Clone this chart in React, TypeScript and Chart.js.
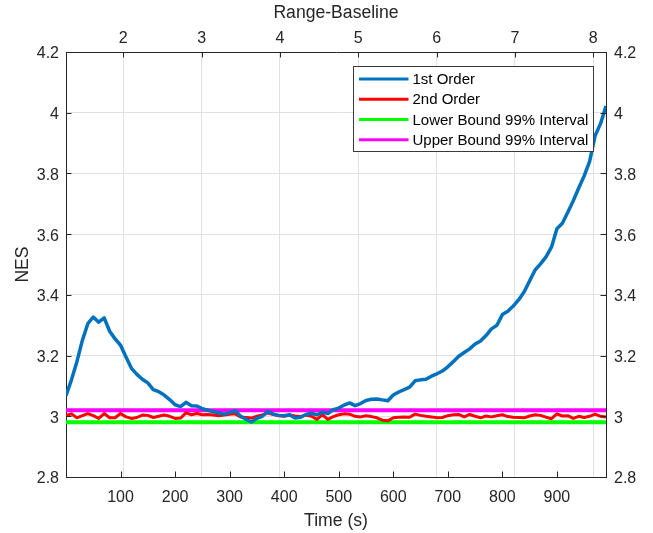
import { useEffect, useRef } from 'react';
import { Chart, registerables } from 'chart.js';

Chart.register(...registerables);

// ---- data ----
const times = [
  0, 10, 20, 30, 40, 50, 60, 70, 80, 90,
  100, 110, 120, 130, 140, 150, 160, 170, 180, 190,
  200, 210, 220, 230, 240, 250, 260, 270, 280, 290,
  300, 310, 320, 330, 340, 350, 360, 370, 380, 390,
  400, 410, 420, 430, 440, 450, 460, 470, 480, 490,
  500, 510, 520, 530, 540, 550, 560, 570, 580, 590,
  600, 610, 620, 630, 640, 650, 660, 670, 680, 690,
  700, 710, 720, 730, 740, 750, 760, 770, 780, 790,
  800, 810, 820, 830, 840, 850, 860, 870, 880, 890,
  900, 910, 920, 930, 940, 950, 960, 970, 980, 990,
];

const firstOrder = [
  3.068, 3.12, 3.18, 3.25, 3.305, 3.327, 3.31, 3.324, 3.28, 3.255,
  3.234, 3.195, 3.158, 3.138, 3.122, 3.11, 3.088, 3.081, 3.07, 3.055,
  3.038, 3.032, 3.046, 3.035, 3.034, 3.025, 3.02, 3.015, 3.011, 3.007,
  3.012, 3.019, 3.0, 2.99, 2.981, 2.993, 3.0, 3.016, 3.007, 3.003,
  3.002, 3.005, 2.994, 2.997, 3.006, 3.01, 3.005, 3.013, 3.009, 3.022,
  3.027, 3.037, 3.044, 3.035, 3.042, 3.052, 3.056, 3.057, 3.054, 3.051,
  3.07, 3.08, 3.088, 3.096, 3.117, 3.12, 3.122, 3.132, 3.14, 3.149,
  3.163, 3.18, 3.198, 3.21, 3.222, 3.238, 3.248, 3.266, 3.288, 3.3,
  3.335, 3.346, 3.363, 3.384, 3.41, 3.446, 3.482, 3.502, 3.525, 3.557,
  3.618, 3.636, 3.672, 3.71, 3.752, 3.792, 3.84, 3.924, 3.964, 4.022,
];

const secondOrder = [
  3.002, 3.008, 2.995, 3.002, 3.009, 3.002, 2.993, 3.009, 2.995, 2.995,
  3.009, 2.998, 2.993, 2.996, 3.004, 3.003, 2.996, 3.0, 3.004, 3.0,
  2.993, 2.994, 3.011, 3.005, 3.009, 3.005, 3.006, 3.004, 3.002, 3.004,
  3.007, 3.008, 2.998, 2.996, 2.994, 3.0, 3.004, 3.011, 3.006, 3.002,
  3.0, 3.004, 3.001, 2.999, 3.004, 3.0, 2.99, 3.005, 2.99, 2.999,
  3.005, 3.008, 3.007, 3.0, 2.998, 3.002, 2.999, 2.995, 2.987, 2.985,
  2.995, 2.997, 2.998, 2.997, 3.007, 3.003, 3.0, 2.998, 2.995, 2.996,
  3.002, 3.005, 3.006, 2.998, 3.006, 3.0, 2.995, 3.001, 2.998, 3.002,
  3.005, 2.999, 2.997, 2.996, 2.995, 3.001, 3.005, 3.003, 2.997, 2.992,
  3.008, 3.001, 3.002, 2.993, 3.0, 2.996, 3.0, 3.007, 3.0, 2.998,
];

const boundTimes = [0, 990];
const lowerBound = [2.98, 2.98];
const upperBound = [3.02, 3.02];

const timeTicks = [100, 200, 300, 400, 500, 600, 700, 800, 900];
const rangeTicks = [2, 3, 4, 5, 6, 7, 8];
const nesTicks = [2.8, 3.0, 3.2, 3.4, 3.6, 3.8, 4.0, 4.2];

const seriesLabels = ['1st Order', '2nd Order', 'Lower Bound 99% Interval', 'Upper Bound 99% Interval'];

// ---- styles ----
const FONT = '"Liberation Sans", Arial, Helvetica, sans-serif';
const AXIS = '#262626';
const GRID = '#e1e1e1';

const inwardTicks = {
  id: 'inwardTicks',
  afterDraw(chart: any) {
    const { ctx, chartArea, scales } = chart;
    const len = 5.5;
    ctx.save();
    ctx.strokeStyle = AXIS;
    ctx.lineWidth = 1;
    ctx.beginPath();
    for (const t of scales.x.ticks) {
      const p = Math.round(scales.x.getPixelForValue(t.value)) + 0.5;
      ctx.moveTo(p, chartArea.bottom);
      ctx.lineTo(p, chartArea.bottom - len);
    }
    for (const t of scales.x2.ticks) {
      const p = Math.round(scales.x2.getPixelForValue(t.value)) + 0.5;
      ctx.moveTo(p, chartArea.top);
      ctx.lineTo(p, chartArea.top + len);
    }
    for (const t of scales.y.ticks) {
      const p = Math.round(scales.y.getPixelForValue(t.value)) + 0.5;
      ctx.moveTo(chartArea.left, p);
      ctx.lineTo(chartArea.left + len, p);
    }
    for (const t of scales.y2.ticks) {
      const p = Math.round(scales.y2.getPixelForValue(t.value)) + 0.5;
      ctx.moveTo(chartArea.right, p);
      ctx.lineTo(chartArea.right - len, p);
    }
    ctx.stroke();
    ctx.restore();
  },
};

const boxLegend = {
  id: 'boxLegend',
  afterDatasetsDraw(chart: any) {
    const { ctx, chartArea } = chart;
    const w = 240;
    const h = 85;
    const left = Math.round(chartArea.right - 13.5 - w) + 0.5;
    const top = Math.round(chartArea.top + 13.5) + 0.5;
    ctx.save();
    ctx.fillStyle = '#ffffff';
    ctx.fillRect(left, top, w, h);
    ctx.strokeStyle = '#3a3a3a';
    ctx.lineWidth = 1;
    ctx.strokeRect(left, top, w, h);
    ctx.font = `15px ${FONT}`;
    ctx.textBaseline = 'middle';
    ctx.textAlign = 'left';
    chart.data.datasets.forEach((ds: any, i: number) => {
      const y = top + 12.6 + i * 20.2;
      ctx.strokeStyle = ds.borderColor;
      ctx.lineWidth = 3;
      ctx.beginPath();
      ctx.moveTo(left + 5.5, y);
      ctx.lineTo(left + 55, y);
      ctx.stroke();
      ctx.fillStyle = '#000000';
      ctx.fillText(ds.label, left + 59, y + 1);
    });
    ctx.restore();
  },
};

const fmt = (v: any) => String(Number(Number(v).toFixed(1)));

export default function App() {
  const ref = useRef<HTMLCanvasElement>(null);

  useEffect(() => {
    const toXY = (xs: number[], ys: number[]) => xs.map((x, i) => ({ x, y: ys[i] }));
    const chart = new Chart(ref.current as HTMLCanvasElement, {
      type: 'line',
      data: {
        datasets: [
          {
            label: seriesLabels[0],
            data: toXY(times, firstOrder),
            borderColor: '#0072BD',
            borderWidth: 3.5,
            order: 0,
          },
          {
            label: seriesLabels[1],
            data: toXY(times, secondOrder),
            borderColor: '#FF0000',
            borderWidth: 3,
            order: 1,
          },
          {
            label: seriesLabels[2],
            data: toXY(boundTimes, lowerBound),
            borderColor: '#00FF00',
            borderWidth: 4,
            order: 2,
          },
          {
            label: seriesLabels[3],
            data: toXY(boundTimes, upperBound),
            borderColor: '#FF00FF',
            borderWidth: 4,
            order: 3,
          },
        ] as any,
      },
      options: {
        responsive: false,
        animation: false,
        devicePixelRatio: 1,
        layout: { padding: 0 },
        elements: {
          point: { radius: 0, hoverRadius: 0 },
          line: { tension: 0, borderJoinStyle: 'round', borderCapStyle: 'butt', fill: false },
        },
        plugins: {
          legend: { display: false },
          tooltip: { enabled: false },
          title: { display: false },
        },
        events: [],
        scales: {
          x: {
            type: 'linear',
            position: 'bottom',
            min: 0,
            max: 990,
            afterBuildTicks: (s: any) => {
              s.ticks = timeTicks.map((v) => ({ value: v }));
            },
            afterFit: (s: any) => {
              s.height = 56;
            },
            grid: { display: false, drawTicks: false },
            border: { display: true, color: AXIS, width: 1 },
            ticks: {
              color: AXIS,
              font: { size: 16, family: FONT },
              padding: 11.2,
              maxRotation: 0,
              autoSkip: false,
              callback: (v: any) => String(v),
            },
            title: {
              display: true,
              text: 'Time (s)',
              color: AXIS,
              font: { size: 17.6, family: FONT },
              padding: { top: 0, bottom: 1.2 },
            },
          },
          x2: {
            type: 'linear',
            position: 'top',
            min: 1.2688,
            max: 8.163,
            afterBuildTicks: (s: any) => {
              s.ticks = rangeTicks.map((v) => ({ value: v }));
            },
            afterFit: (s: any) => {
              s.height = 52;
            },
            grid: { display: true, color: GRID, lineWidth: 1, drawTicks: false },
            border: { display: true, color: AXIS, width: 1 },
            ticks: {
              color: AXIS,
              font: { size: 16, family: FONT },
              padding: 4.2,
              maxRotation: 0,
              autoSkip: false,
              callback: (v: any) => String(v),
            },
            title: {
              display: true,
              text: 'Range-Baseline',
              color: AXIS,
              font: { size: 17.6, family: FONT },
              padding: { top: 2.4, bottom: 0 },
            },
          },
          y: {
            type: 'linear',
            position: 'left',
            min: 2.8,
            max: 4.2,
            afterBuildTicks: (s: any) => {
              s.ticks = nesTicks.map((v) => ({ value: v }));
            },
            afterFit: (s: any) => {
              s.width = 66;
            },
            grid: { display: true, color: GRID, lineWidth: 1, drawTicks: false },
            border: { display: true, color: AXIS, width: 1 },
            ticks: {
              color: AXIS,
              font: { size: 16, family: FONT },
              padding: 7,
              labelOffset: 2,
              autoSkip: false,
              callback: fmt,
            },
            title: {
              display: true,
              text: 'NES',
              color: AXIS,
              font: { size: 17.6, family: FONT },
              padding: { top: 13, bottom: 0 },
            },
          },
          y2: {
            type: 'linear',
            position: 'right',
            min: 2.8,
            max: 4.2,
            afterBuildTicks: (s: any) => {
              s.ticks = nesTicks.map((v) => ({ value: v }));
            },
            afterFit: (s: any) => {
              s.width = 47;
            },
            grid: { display: false, drawTicks: false },
            border: { display: true, color: AXIS, width: 1 },
            ticks: {
              color: AXIS,
              font: { size: 16, family: FONT },
              padding: 8,
              labelOffset: 2,
              autoSkip: false,
              callback: fmt,
            },
          },
        } as any,
      },
      plugins: [inwardTicks, boxLegend],
    });
    return () => chart.destroy();
  }, []);

  return (
    <div style={{ position: 'absolute', left: 0, top: 0, width: 653, height: 533, background: '#ffffff' }}>
      <canvas ref={ref} width={653} height={533} style={{ display: 'block', width: 653, height: 533 }} />
    </div>
  );
}
